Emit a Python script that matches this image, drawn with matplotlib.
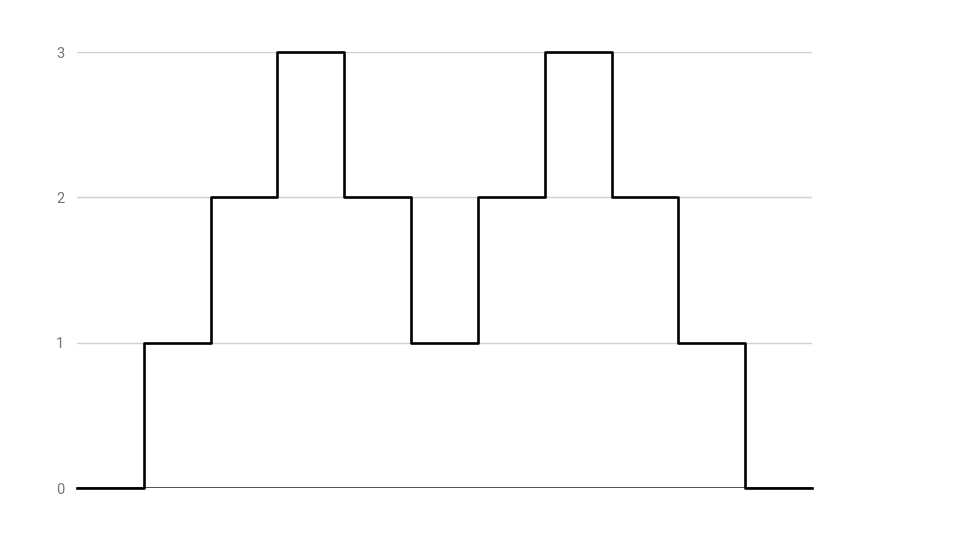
import matplotlib.pyplot as plt

plt.rcParams['font.family'] = ['Roboto', 'DejaVu Sans']

# step chart data: one value per interval
x = [0, 1, 2, 3, 4, 5, 6, 7, 8, 9, 10, 11]
values = [0, 1, 2, 3, 2, 1, 2, 3, 2, 1, 0, 0]
y_ticks = [0, 1, 2, 3]

fig = plt.figure(figsize=(9.6, 5.4), dpi=100)
ax = fig.add_axes([77 / 960, 1 - 488 / 540, 735 / 960, 436 / 540])

ax.step(x, values, where='post', color='black', linewidth=1.9, clip_on=False, zorder=3)

ax.set_xlim(0, 11)
ax.set_ylim(0, 3)
ax.set_yticks(y_ticks)
ax.set_xticks([])
ax.tick_params(axis='y', length=0, pad=9, labelsize=10.5, labelcolor='#757575')

for v in y_ticks[1:]:
    ax.axhline(v, color='#d0d0d0', linewidth=1, zorder=1)
ax.axhline(0, color='#333333', linewidth=1.2, zorder=2)

for s in ax.spines.values():
    s.set_visible(False)

plt.savefig("out.png", dpi=100)
